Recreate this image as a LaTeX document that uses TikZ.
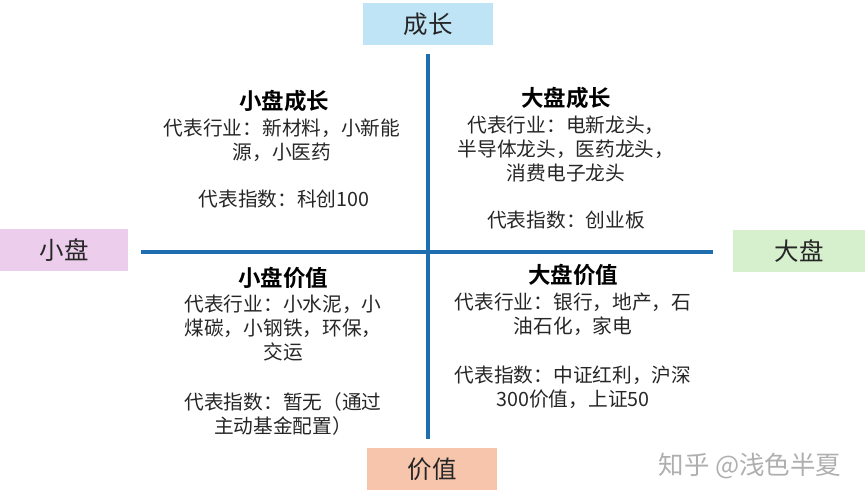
\documentclass[tikz,border=0pt]{standalone}
\usepackage{fontspec}
\setmainfont{Noto Sans CJK SC}[BoldFont={Noto Sans CJK SC Bold}]
\definecolor{growthblue}{RGB}{190,228,245}
\definecolor{smallpink}{RGB}{237,205,236}
\definecolor{biggreen}{RGB}{214,240,206}
\definecolor{valuesalmon}{RGB}{246,197,172}
\definecolor{axisblue}{RGB}{31,110,175}
\definecolor{wmgray}{RGB}{175,175,175}
\tikzset{
  axislabel/.style={minimum width=130pt,minimum height=42pt,inner sep=0pt,font=\fontsize{24.5}{28}\selectfont,text=black!85},
  axisline/.style={draw=axisblue,line width=4pt},
  qtitle/.style={inner sep=0pt,yshift=-3.5pt,text height=0.88em,text depth=0.12em,font=\fontsize{22.5}{26}\bfseries\selectfont},
  qline/.style={inner sep=0pt,yshift=-3.5pt,text height=0.88em,text depth=0.12em,font=\fontsize{19.7}{24}\selectfont,text=black!85},
}
\begin{document}
\begin{tikzpicture}[x=1pt,y=-1pt]
\useasboundingbox (0,0) rectangle (865,500);
% axes
\coordinate (vt) at (428,54);
\coordinate (vb) at (428,439);
\coordinate (hl) at (141,252);
\coordinate (hr) at (713,252);
\draw[axisline] (vt) -- (vb);
\draw[axisline] (hl) -- (hr);
% axis labels
\node[axislabel,fill=growthblue] (grow) at (428,24.5) {成长};
\node[axislabel,fill=smallpink,minimum width=128pt] (small) at (64,250) {小盘};
\node[axislabel,fill=biggreen,minimum width=132pt] (big) at (799,251) {大盘};
\node[axislabel,fill=valuesalmon] (value) at (432,469) {价值};
% Q1 small growth
\node[qtitle] (q1t) at (284,102) {小盘成长};
\node[qline] (q1a) at (282,128) {代表行业：新材料，小新能};
\node[qline] (q1b) at (282,152) {源，小医药};
\node[qline] (q1c) at (284,199) {代表指数：科创100};
% Q2 big growth
\node[qtitle] (q2t) at (566,99) {大盘成长};
\node[qline] (q2a) at (566,125) {代表行业：电新龙头，};
\node[qline] (q2b) at (566,149) {半导体龙头，医药龙头，};
\node[qline] (q2c) at (566,173) {消费电子龙头};
\node[qline] (q2d) at (566,220) {代表指数：创业板};
% Q3 small value
\node[qtitle] (q3t) at (283,279) {小盘价值};
\node[qline] (q3a) at (283,304) {代表行业：小水泥，小};
\node[qline] (q3b) at (283,328) {煤碳，小钢铁，环保，};
\node[qline] (q3c) at (283,352) {交运};
\node[qline] (q3d) at (283,402) {代表指数：暂无（通过};
\node[qline] (q3e) at (283,426) {主动基金配置）};
% Q4 big value
\node[qtitle] (q4t) at (573,276) {大盘价值};
\node[qline] (q4a) at (573,302) {代表行业：银行，地产，石};
\node[qline] (q4b) at (573,326) {油石化，家电};
\node[qline] (q4c) at (573,375) {代表指数：中证红利，沪深};
\node[qline] (q4d) at (573,399) {300价值，上证50};
% watermark
\node[inner sep=0pt,font=\fontsize{25.5}{28}\selectfont,text=wmgray] (wm) at (750,466) {知乎 @浅色半夏};
\end{tikzpicture}
\end{document}
